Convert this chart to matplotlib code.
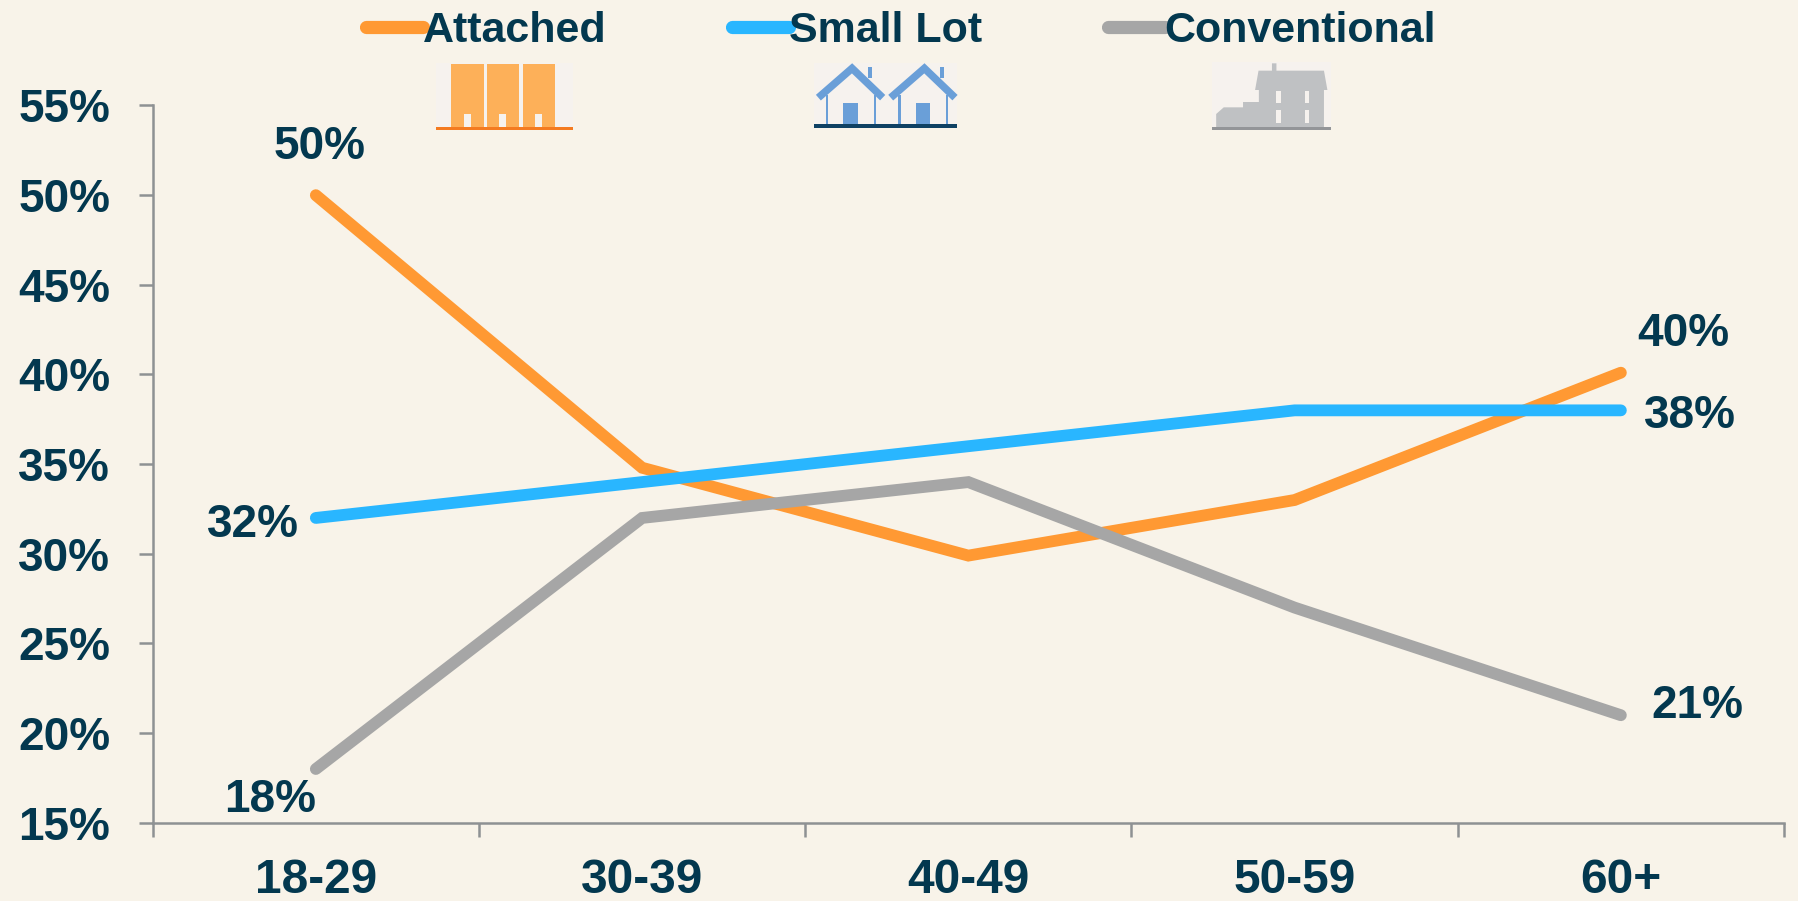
import numpy as np
import matplotlib
matplotlib.use("Agg")
import matplotlib.pyplot as plt
from matplotlib.patches import Polygon, Rectangle

ages = ["18-29", "30-39", "40-49", "50-59", "60+"]
attached = [50, 34.8, 29.9, 33, 40.1]
small_lot = [32, 34, 36, 38, 38]
conventional = [18, 32, 34, 27, 21]
yticks = [15, 20, 25, 30, 35, 40, 45, 50, 55]

BG = "#F8F3E9"
NAVY = "#03384F"
AXIS = "#8E9193"
W, H = 1799, 901

plt.rcParams["font.family"] = ["Liberation Sans", "DejaVu Sans"]

fig = plt.figure(figsize=(W / 100, H / 100), dpi=100, facecolor=BG)
ax = fig.add_axes([152.7 / W, 1 - 822.8 / H, (1784 - 152.7) / W, (822.8 - 105.5) / H])
ax.set_facecolor(BG)

x = np.arange(len(ages)) + 0.5
lw = 8.5
ax.plot(x, attached, color="#FF9933", lw=lw, solid_capstyle="round", solid_joinstyle="miter", label="Attached")
ax.plot(x, small_lot, color="#29B6FF", lw=lw, solid_capstyle="round", solid_joinstyle="miter", label="Small Lot")
ax.plot(x, conventional, color="#A6A6A6", lw=lw, solid_capstyle="round", solid_joinstyle="miter", label="Conventional")

ax.set_xlim(0, 5)
ax.set_ylim(15, 55)
ax.set_yticks(yticks)
ax.set_yticklabels([f"{v}%" for v in yticks])
ax.set_xticks(np.arange(6))
ax.set_xticklabels([])
ax.set_xticks(x, labels=ages, minor=True)

for s in ["top", "right"]:
    ax.spines[s].set_visible(False)
for s in ["left", "bottom"]:
    ax.spines[s].set_color(AXIS)
    ax.spines[s].set_linewidth(1.8)
ax.tick_params(axis="both", which="major", length=10.3, width=1.8, color=AXIS)
ax.tick_params(axis="y", labelsize=33, labelcolor=NAVY, pad=20.3)
ax.tick_params(axis="x", which="minor", length=0, labelsize=34.5, labelcolor=NAVY, pad=25)
for t in ax.get_yticklabels() + ax.get_xticklabels(minor=True):
    t.set_fontweight("bold")

# end labels, offsets in points from the data point
end_labels = [
    (0, attached[0], "50%", 3, 35),
    (0, small_lot[0], "32%", -45, -5),
    (0, conventional[0], "18%", -33, -22),
    (4, attached[4], "40%", 45, 28),
    (4, small_lot[4], "38%", 50, -4),
    (4, conventional[4], "21%", 55, 6.5),
]
for i, v, s, dx, dy in end_labels:
    ax.annotate(s, (x[i], v), xytext=(dx, dy), textcoords="offset points", ha="center", va="center",
                fontsize=33, fontweight="bold", color=NAVY)

leg = fig.legend(loc="center", bbox_to_anchor=(901 / W, 1 - 31 / H), ncol=3, frameon=False,
                 handlelength=1.32, handletextpad=0, columnspacing=2.92,
                 prop={"weight": "bold", "size": 31})
for txt in leg.get_texts():
    txt.set_color(NAVY)
for h in leg.get_lines():
    h.set_linewidth(9.5)

# house icons, drawn in pixel coordinates of the picture
ic = fig.add_axes([0, 0, 1, 1], facecolor="none")
ic.set_xlim(0, W)
ic.set_ylim(H, 0)
ic.axis("off")


def px(pts, x0, sx):
    # zoomed crop coords -> figure pixels
    return [(x0 + a / sx, b / 3) for a, b in pts]


def box(x0, sx, a0, b0, a1, b1, c):
    p = px([(a0, b0), (a1, b1)], x0, sx)
    ic.add_patch(Rectangle(p[0], p[1][0] - p[0][0], p[1][1] - p[0][1], fc=c, ec="none"))


PANEL = "#F6F2EE"
S1, S2 = 2.613, 2.904
# attached
box(340, S1, 252, 188, 608, 384, PANEL)
for a0, a1 in [(290, 376), (384, 468), (477, 562)]:
    box(340, S1, a0, 192, a1, 384, "#FDB059")
for a0 in [323, 416, 509]:
    box(340, S1, a0, 341, a0 + 19, 384, PANEL)
box(340, S1, 252, 382, 608, 390, "#F47B20")

# small lot
BLUE = "#6A9FD8"
box(340, S1, 1238, 188, 1612, 374, PANEL)
for apex in [1338, 1527]:
    ic.plot(*zip(*px([(apex - 88, 293), (apex, 205), (apex + 80, 293)], 340, S1)), color=BLUE, lw=5.4,
            solid_capstyle="butt", solid_joinstyle="miter")
    for wall in [apex - 65, apex + 60]:
        box(340, S1, wall - 3, 285, wall + 3, 372, BLUE)
    box(340, S1, apex - 23, 308, apex + 15, 372, BLUE)
    box(340, S1, apex + 42, 200, apex + 52, 235, BLUE)
box(340, S1, 1238, 372, 1612, 385, "#0F4163")

# conventional
GREY = "#BFC1C3"
box(940, S2, 790, 185, 1135, 384, PANEL)
ic.add_patch(Polygon(px([(802, 381), (802, 342), (824, 322), (880, 322), (880, 306), (926, 306),
                         (926, 270), (915, 270), (925, 212), (964, 212), (964, 190), (977, 190),
                         (977, 212), (1115, 212), (1125, 270), (1115, 270), (1115, 381)], 940, S2),
                     closed=True, fc=GREY, ec="none"))
for a0 in [977, 1060]:
    for b0 in [272, 330]:
        box(940, S2, a0, b0, a0 + 13, b0 + 38, PANEL)
box(940, S2, 790, 381, 1135, 389, "#939598")

fig.savefig("out.png", dpi=100, facecolor=BG)
